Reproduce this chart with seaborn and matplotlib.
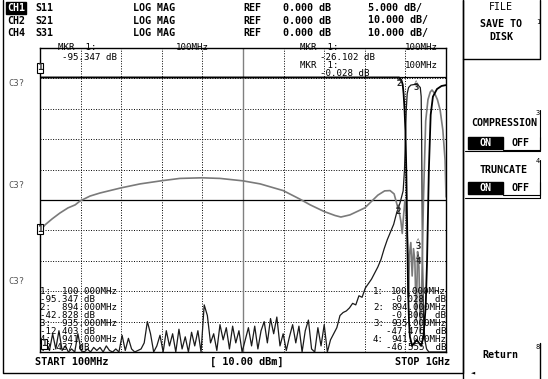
import matplotlib
matplotlib.use("Agg")
import matplotlib.pyplot as plt
import seaborn as sns
import numpy as np
import pandas as pd

# ---------------- data (frequency in MHz, level in screen divisions 0..10) -------------
s11_freq = [100, 111, 127, 144, 162, 178, 189, 211, 233, 280, 322, 368, 410, 459, 499, 550,
            588, 639, 676, 699, 730, 754, 767, 787, 820, 849, 864, 876, 885, 891, 896,
            900, 903, 906, 909, 912, 915, 917, 919, 922, 925, 928, 931, 934, 937, 940, 943,
            946, 950, 955, 960, 965, 969, 975, 981, 987, 993, 998, 1000]
s11_div = [3.98, 4.18, 4.38, 4.57, 4.74, 4.84, 4.97, 5.13, 5.23, 5.40, 5.53, 5.63, 5.71, 5.73,
           5.71, 5.63, 5.53, 5.31, 5.03, 4.84, 4.62, 4.49, 4.44, 4.51, 4.74, 5.16, 5.30, 5.31,
           5.20, 4.87, 4.61, 4.3, 3.9, 4.5, 5.0, 4.4, 3.5, 1.8, 3.2, 3.6, 2.5, 3.4, 3.0, 1.0,
           3.3, 2.8, 0.6, 2.0, 5.0, 7.6, 8.3, 8.55, 8.62, 8.5, 8.3, 7.96, 7.3, 6.3, 5.1]

s21_freq = [100, 895, 898, 901, 904, 906, 908, 910, 912, 914, 916, 918, 920, 925, 935, 945,
            950, 955, 958, 962, 966, 971, 980, 990, 1000]
s21_div = [9.03, 9.03, 9.0, 8.95, 8.8, 8.5, 8.0, 7.3, 6.0, 4.0, 2.0, 1.0, 0.5, 0.2, 0.4, 0.2,
           0.5, 1.5, 3.0, 6.0, 7.8, 8.4, 8.65, 8.75, 8.78]

s31_noise_start = 100
s31_noise_step = 7
s31_noise_div = [0.25, 0.05, 0.3, 0.05, 0.6, 0.1, 0.7, 0.05, 0.2, 0.0, 0.1, 0.0, 0.6, 0.05, 0.0,
                 0.1, 0.0, 0.15, 0.05, 0.15, 0.0, 0.2, 0.05, 0.0, 0.1, 0.0, 0.55, 0.05, 0.45,
                 0.1, 0.0, 0.05, 0.1, 0.3, 1.0, 0.6, 0.0, 0.2, 0.55, 0.0, 0.7, 0.2, 0.6, 0.0,
                 0.75, 0.1, 0.5, 0.0, 0.65, 0.2, 0.7, 0.0, 1.55, 1.2, 0.3, 0.6, 0.05, 0.9, 0.4,
                 0.8, 0.1, 0.85, 0.3, 0.7, 0.0, 0.4, 0.8, 0.2, 0.85, 0.1, 0.7, 1.0, 0.3, 1.1,
                 0.6, 1.15, 0.2, 0.6, 0.05, 0.5, 0.9, 0.3, 0.85, 0.0, 0.7, 1.05, 0.1, 0.0, 0.8,
                 0.2, 0.9, 0.0, 0.4, 0.6, 0.8, 1.2, 1.3, 1.35, 1.45, 1.6, 1.55, 1.85, 1.8, 2.1,
                 2.25]
s31_tail_freq = [835, 842, 849, 856, 863, 870, 877, 884, 891, 898, 905, 908, 910, 912, 914,
                 917, 922, 930, 938, 943, 945, 946, 947, 948, 949, 950, 953, 957, 962, 970,
                 980, 990, 1000]
s31_tail_div = [2.4, 2.6, 2.8, 3.05, 3.4, 3.7, 3.95, 4.2, 4.6, 4.9, 5.3, 6.0, 7.0, 8.0, 8.5,
                8.7, 8.78, 8.8, 8.78, 8.7, 8.4, 7.0, 5.0, 3.0, 2.1, 1.2, 0.4, 0.1, 0.0, 0.0,
                0.0, 0.0, 0.0]

header_rows = [("CH1", "S11", "LOG MAG", "REF", "0.000 dB", "5.000 dB/"),
               ("CH2", "S21", "LOG MAG", "REF", "0.000 dB", "10.000 dB/"),
               ("CH4", "S31", "LOG MAG", "REF", "0.000 dB", "10.000 dB/")]
left_readout = ["1:  100.000MHz", "-95.347 dB", "2:  894.000MHz", "-42.828 dB",
                "3:  935.000MHz", "-12.403 dB", "4:  941.000MHz", "-2.437 dB"]
right_readout = ["100.000MHz", "-0.028  dB", "894.000MHz", "-0.806  dB",
                 "935.000MHz", "-47.476  dB", "941.000MHz", "-46.555  dB"]

# ---------------- figure ----------------
W, H = 548, 379
sns.set_theme(style="white")
plt.rcParams['font.family'] = ['DejaVu Sans Mono', 'DejaVu Sans']
fig = plt.figure(figsize=(W / 100, H / 100), dpi=100)
fig.patch.set_facecolor("white")

def X(px):
    return px / W

def Y(py):
    return 1 - py / H

ax = fig.add_axes([X(40), Y(352), 406 / W, 304 / H])
ax.set_xlim(100, 1000)
ax.set_ylim(0, 10)
ax.set_xticks([])
ax.set_yticks([])
for sp in ax.spines.values():
    sp.set_color("black")
    sp.set_linewidth(1.0)

# graticule
for i in range(1, 10):
    ax.axhline(i, color="black", lw=0.7, ls=(0, (1, 1.6)), zorder=1)
    ax.axvline(100 + 90 * i, color="black", lw=0.7, ls=(0, (1, 1.6)), zorder=1)
ax.axvline(550, color="#808080", lw=1.0, zorder=1.5)
ax.axhline(9.03, color="black", lw=0.9, zorder=1.5)
ax.axhline(5.0, color="black", lw=0.9, zorder=1.5)

# traces
noise_freq = [s31_noise_start + s31_noise_step * k for k in range(len(s31_noise_div))]
df31 = pd.DataFrame({"f": noise_freq + s31_tail_freq, "v": s31_noise_div + s31_tail_div})
sns.lineplot(data=df31, x="f", y="v", ax=ax, color="#1a1a1a", lw=0.9, sort=False,
             estimator=None, zorder=3)
df11 = pd.DataFrame({"f": s11_freq, "v": s11_div})
sns.lineplot(data=df11, x="f", y="v", ax=ax, color="#7a7a7a", lw=1.2, sort=False,
             estimator=None, zorder=3)
df21 = pd.DataFrame({"f": s21_freq, "v": s21_div})
sns.lineplot(data=df21, x="f", y="v", ax=ax, color="black", lw=1.3, sort=False,
             estimator=None, zorder=3)
ax.set_xlabel("")
ax.set_ylabel("")

# ---------------- outer frame ----------------
frame = plt.Line2D([X(3), X(3), X(463), X(463)], [Y(0), Y(373), Y(373), Y(0)],
                   transform=fig.transFigure, color="black", lw=1.0)
fig.add_artist(frame)

# header
hdr_font = dict(family="DejaVu Sans Mono", fontsize=7.2, fontweight="bold", va="center")
cols = [7, 35, 133, 243, 283, 368]
for r, row in enumerate(header_rows):
    yy = 8 + 12.5 * r
    for c, txt in enumerate(row):
        if r == 0 and c == 0:
            fig.text(X(cols[c]), Y(yy), txt, color="white",
                     bbox=dict(boxstyle="square,pad=0.1", fc="black", ec="black"), **hdr_font)
        else:
            fig.text(X(cols[c]), Y(yy), txt, color="black", **hdr_font)

# marker info near top of grid
mk_font = dict(family="DejaVu Sans Mono", fontsize=6.6, va="center", color="black")
fig.text(X(58), Y(48), "MKR  1:", **mk_font)
fig.text(X(176), Y(48), "100MHz", **mk_font)
fig.text(X(62), Y(57), "-95.347 dB", **mk_font)
fig.text(X(300), Y(48), "MKR  1:", **mk_font)
fig.text(X(405), Y(48), "100MHz", **mk_font)
fig.text(X(320), Y(57), "-26.102 dB", **mk_font)
fig.text(X(300), Y(66), "MKR  1:", **mk_font)
fig.text(X(405), Y(66), "100MHz", **mk_font)
fig.text(X(320), Y(74), "-0.028 dB", **mk_font)

for k, txt in enumerate(left_readout):
    fig.text(X(40), Y(291 + 8 * k), txt, **mk_font)
for k, txt in enumerate(right_readout):
    fig.text(X(446), Y(291 + 8 * k), txt, ha="right", **mk_font)
for k, lab in enumerate(["1:", "2:", "3:", "4:"]):
    fig.text(X(373), Y(291 + 16 * k), lab, **mk_font)

# C3? labels
for yy in (83, 185, 282):
    fig.text(X(8), Y(yy), "C3?", family="DejaVu Sans Mono", fontsize=6.4, va="center",
             color="#555555")

# marker flags
def boxed(px, py, t):
    fig.text(X(px), Y(py), t, fontsize=6.5, fontweight="bold", ha="center", va="center",
             bbox=dict(boxstyle="square,pad=0.05", fc="white", ec="black", lw=0.8))

boxed(40, 68, "1")
boxed(40, 229, "1")
boxed(44, 344, "1")
for (px, py, t) in [(399, 84, "2"), (416, 88, "3"), (398, 212, "2"), (418, 246, "3"),
                    (418, 262, "4")]:
    fig.text(X(px), Y(py - 6), "\u25b3", fontsize=5, ha="center", va="center", color="black")
    fig.text(X(px), Y(py), t, fontsize=6.5, fontweight="bold", ha="center", va="center")

# bottom line
bot_font = dict(family="DejaVu Sans Mono", fontsize=7.4, fontweight="bold", va="center",
                color="black")
fig.text(X(35), Y(362), "START 100MHz", **bot_font)
fig.text(X(210), Y(362), "[ 10.00 dBm]", **bot_font)
fig.text(X(395), Y(362), "STOP 1GHz", **bot_font)

# ---------------- soft key panel ----------------
sk_font = dict(family="DejaVu Sans Mono", fontsize=7.2, fontweight="bold", ha="center",
               va="center", color="black")
fig.add_artist(plt.Line2D([X(463), X(463)], [Y(0), Y(379)], transform=fig.transFigure,
                          color="black", lw=1.0))
fig.add_artist(plt.Line2D([X(463), X(540), X(540)], [Y(59), Y(59), Y(0)],
                          transform=fig.transFigure, color="black", lw=1.0))
fig.text(X(501), Y(7), "FILE", **{**sk_font, "fontweight": "normal"})
fig.text(X(501), Y(24), "SAVE TO", **sk_font)
fig.text(X(501), Y(37), "DISK", **sk_font)
fig.text(X(536), Y(22), "1", fontsize=5, color="black", va="center")

fig.text(X(504), Y(123), "COMPRESSION", **sk_font)
fig.text(X(536), Y(113), "3", fontsize=5, color="black", va="center")
fig.text(X(504), Y(170), "TRUNCATE", **sk_font)
fig.text(X(536), Y(161), "4", fontsize=5, color="black", va="center")
for yy in (143, 188):
    fig.add_artist(plt.Rectangle((X(468), Y(yy + 6)), 35 / W, 12 / H, transform=fig.transFigure,
                                 fc="black", ec="black"))
    fig.text(X(485), Y(yy), "ON", **{**sk_font, "color": "white"})
    fig.text(X(521), Y(yy), "OFF", **sk_font)
    fig.add_artist(plt.Line2D([X(503), X(540), X(540)], [Y(yy + 7), Y(yy + 7), Y(yy - 6)],
                              transform=fig.transFigure, color="black", lw=0.8))
fig.add_artist(plt.Line2D([X(465), X(540), X(540)], [Y(151), Y(151), Y(110)],
                          transform=fig.transFigure, color="black", lw=0.8))
fig.add_artist(plt.Line2D([X(465), X(540), X(540)], [Y(198), Y(198), Y(160)],
                          transform=fig.transFigure, color="black", lw=0.8))

fig.text(X(500), Y(355), "Return", **sk_font)
fig.text(X(536), Y(347), "8", fontsize=5, color="black", va="center")
fig.add_artist(plt.Line2D([X(540), X(540)], [Y(343), Y(379)], transform=fig.transFigure,
                          color="black", lw=1.0))
fig.text(X(473), Y(372), "\u25c4", fontsize=5, color="black", ha="center", va="center")

fig.savefig("out.png", dpi=100, facecolor="white")
